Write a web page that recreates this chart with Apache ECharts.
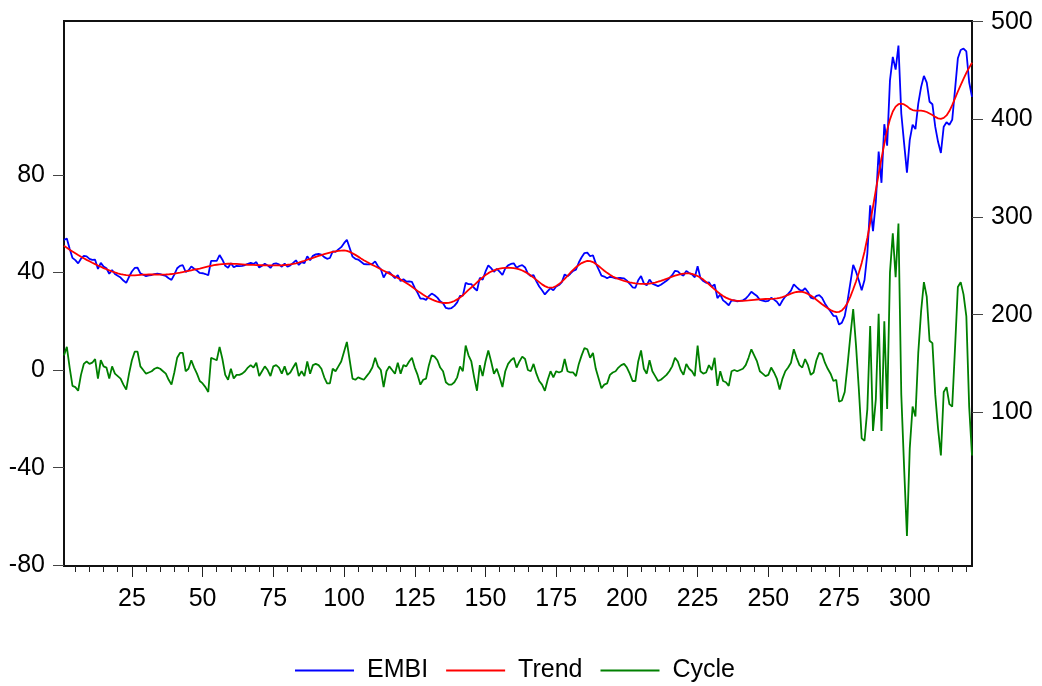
<!DOCTYPE html>
<html><head><meta charset="utf-8">
<script src="https://cdn.jsdelivr.net/npm/echarts@6/dist/echarts.min.js"></script>
<style>html,body{margin:0;padding:0;background:#fff}#c{width:1042px;height:686px}</style>
</head><body><div id="c"></div><script>
const EMBI = [276.5,278,267.5,258.1,255.8,252.5,257.3,260.2,259.6,257.1,
256.1,256.2,246.8,253,249.2,247.5,241.8,245.7,241.7,239.8,
238,234.9,232.5,238.8,244.2,247.8,248,242.2,240.9,239.5,
240.1,240.6,241.6,242,241.5,240.5,239.6,237.3,235.6,241,
247.5,250,250.6,243.7,245.3,249.4,247,245.1,242.7,242.4,
241.6,240.3,255,255.1,255.1,261,256.3,250,248.1,252.6,
248.5,249.9,249.7,250,250.8,252.1,253,251.9,253.8,248.2,
250.1,252,250.4,247.9,251.9,252.4,251.5,249.1,252.3,249.1,
250.5,253,255.6,250.9,253.8,252.7,259.7,255.7,260.2,261.7,
262.1,261.5,258.9,257.2,258,264.7,264.3,266.8,269.1,273.2,
276.7,268.3,259.4,257.2,256.4,254.1,251.8,251.6,251.5,252,
254.5,249.5,246.5,238,243,243.5,240.5,237.5,240.5,234.4,
236.2,233.9,234,233.5,227.4,222.3,216.3,216.4,215.1,219,
221.6,219.9,217.4,213.6,211.6,206.9,206.1,206.8,209,212.6,
219.1,219.4,232.5,231.3,231.3,227.3,224.5,237.7,235.7,244,
250.5,247.6,243.9,246.9,244.1,240.6,247.4,250.5,251.9,252.6,
248.1,249.8,250.7,248.3,242.1,239.6,240.4,234.1,228.8,225,
220.7,224,227.1,225,228.8,230.3,233.3,241.2,239.3,241.9,
244.9,246.1,253.4,258.8,263.1,263.5,259.8,260.8,252.5,246.3,
239.9,239,237.3,238.8,238.1,237.2,237.5,237.5,237.1,234.8,
231.6,228,227.5,235.2,239.5,232,230.1,235.9,231.8,230.4,
229.2,230.6,232.6,234.7,237.3,240.4,244.9,244.3,241.5,240,
244.8,242.7,241.2,238.3,249.5,237.4,234.4,232.6,233.1,228.5,
230.9,216.9,220.6,214.6,212.4,209.6,214.6,214.5,213.7,214.1,
214.7,216.4,219.6,223.4,221.2,219,215.2,214.4,213.5,214.1,
217.2,215.4,213.2,209.2,214.5,218.6,221.3,224.5,231,228.2,
225.5,224.3,227,223.2,217.5,216.5,219.3,220,217.2,211.5,
207,203.2,198.8,198.5,189.8,191.8,198.5,214,232.5,251,
244,235,225,235.5,262.5,312,285.5,315.5,367,335,
395,373,440,464,451,475.5,406,375.3,345.5,379,
394.5,390,416,433,444.5,437.5,418,415.5,392.5,377,
365.5,392.5,397,394.5,399.5,430.5,462.5,471,472.5,469.5,
438,423];

const TREND = [270.5,268.5,266.5,264.6,262.8,261,259.3,257.7,256.1,254.6,
253.1,251.7,250.3,249,247.7,246.5,245.3,244.2,243.2,242.3,
241.5,240.9,240.5,240.3,240.2,240.3,240.5,240.7,240.9,241,
241.1,241.1,241.1,241,241,241,241.1,241.3,241.6,242,
242.5,243,243.6,244.2,244.8,245.4,246,246.6,247.2,247.9,
248.6,249.3,250,250.6,251.1,251.5,251.8,252,252.1,252.1,
252,251.9,251.7,251.5,251.3,251.1,251,250.9,250.8,250.7,
250.6,250.5,250.4,250.4,250.4,250.4,250.5,250.6,250.8,251.1,
251.5,252,252.6,253.4,254.3,255.2,256.2,257.2,258.2,259.2,
260.1,261,261.9,262.7,263.5,264.2,264.8,265.3,265.6,265.7,
265.2,264.3,262.9,261.2,259.4,257.6,255.8,254.1,252.5,251,
249.5,248,246.5,245,243.5,242,240.5,239,237.5,235.9,
234.2,232.4,230.5,228.5,226.4,224.3,222.3,220.4,218.6,217,
215.6,214.4,213.4,212.6,212.1,211.9,212.1,212.8,214,215.6,
217.6,219.9,222.5,225.3,227.8,230.3,233,235.7,238.2,240.5,
242.5,244.1,245.4,246.4,247.1,247.6,247.9,248,247.9,247.6,
247.1,246.3,245.2,243.8,242.1,240.1,237.9,235.6,233.3,231,
229.2,228,227.6,228,229.3,231.3,233.8,236.7,239.8,242.9,
245.9,248.6,250.9,252.8,254.1,255,254.8,253.8,252,249.8,
247.4,245,242.8,240.8,239.1,237.7,236.5,235.5,234.6,233.8,
233.1,232.5,232,231.7,231.5,231.5,231.6,231.9,232.3,232.9,
233.7,234.6,235.6,236.7,237.8,238.9,239.9,240.8,241.5,242,
242.3,242.2,241.7,240.8,239.5,237.9,235.9,233.6,231.1,228.5,
225.9,223.4,221.1,219.1,217.4,216.1,215.1,214.5,214.2,214.1,
214.2,214.4,214.6,214.9,215.2,215.5,215.7,215.9,216,216.1,
216.2,216.4,216.7,217.2,218,219.1,220.3,221.5,222.5,223.2,
223.5,223.3,222.5,221.2,219.5,217.5,215.3,213,210.7,208.5,
206.5,204.7,203.3,202.5,202.8,204.3,207.5,212,218.5,226,
234,243,253,264.5,278.5,294,310.5,327.5,344,360,
375,389,400,408,413,415.5,416,415.3,413.5,411,
409.5,409,409,409,408.5,407.5,406,404.5,402.5,401,
400.5,401.5,404,408.5,414.5,421.5,428.5,435,441.5,447.5,
453,458];

const CYCLE = [6,9.5,1,-6.5,-7,-8.5,-2,2.5,3.5,2.5,
3,4.5,-3.5,4,1.5,1,-3.5,1.5,-1.5,-2.5,
-3.5,-6,-8,-1.5,4,7.5,7.5,1.5,0,-1.5,
-1,-0.5,0.5,1,0.5,-0.5,-1.5,-4,-6,-1,
5,7,7,-0.5,0.5,4,1,-1.5,-4.5,-5.5,
-7,-9,5,4.5,4,9.5,4.5,-2,-4,0.5,
-3.5,-2,-2,-1.5,-0.5,1,2,1,3,-2.5,
-0.5,1.5,0,-2.5,1.5,2,1,-1.5,1.5,-2,
-1,1,3,-2.5,-0.5,-2.5,3.5,-1.5,2,2.5,
2,0.5,-3,-5.5,-5.5,0.5,-0.5,1.5,3.5,7.5,
11.5,4,-3.5,-4,-3,-3.5,-4,-2.5,-1,1,
5,1.5,0,-7,-0.5,1.5,0,-1.5,3,-1.5,
2,1.5,3.5,5,1,-2,-6,-4,-3.5,2,
6,5.5,4,1,-0.5,-5,-6,-6,-5,-3,
1.5,-0.5,10,6,3.5,-3,-8.5,2,-2.5,3.5,
8,3.5,-1.5,0.5,-3,-7,-0.5,2.5,4,5,
1,3.5,5.5,4.5,0,-0.5,2.5,-1.5,-4.5,-6,
-8.5,-4,-0.5,-3,-0.5,-1,-0.5,4.5,-0.5,-1,
-1,-2.5,2.5,6,9,8.5,5,7,0.5,-3.5,
-7.5,-6,-5.5,-2,-1,-0.5,1,2,2.5,1,
-1.5,-4.5,-4.5,3.5,8,0.5,-1.5,4,-0.5,-2.5,
-4.5,-4,-3,-2,-0.5,1.5,5,3.5,0,-2,
2.5,0.5,-0.5,-2.5,10,-0.5,-1.5,-1,2,0,
5,-6.5,-0.5,-4.5,-5,-6.5,-0.5,0,-0.5,0,
0.5,2,5,8.5,6,3.5,-0.5,-1.5,-2.5,-2,
1,-1,-3.5,-8,-3.5,-0.5,1,3,8.5,5,
2,1,4.5,2,-2,-1,4,7,6.5,3,
0.5,-1.5,-4.5,-4,-13,-12.5,-9,2,14,25,
10,-8,-28,-29,-16,18,-25,-12,23,-25,
20,-16,40,56,38,60,-10,-40,-68,-32,
-15,-19,7,24,36,30,12,11,-10,-24,
-35,-9,-7,-14,-15,9,34,36,31,22,
-15,-35];

const SERIES_NAMES = ['EMBI', 'Trend', 'Cycle'];
const X_TICKS = [25, 50, 75, 100, 125, 150, 175, 200, 225, 250, 275, 300];
const X_MINOR = [5,10,15,20,25,30,35,40,45,50,55,60,65,70,75,80,85,90,95,100,
105,110,115,120,125,130,135,140,145,150,155,160,165,170,175,180,185,190,195,200,
205,210,215,220,225,230,235,240,245,250,255,260,265,270,275,280,285,290,295,300,
305,310,315,320];
const LEFT_TICKS = [-80, -40, 0, 40, 80];
const RIGHT_TICKS = [100, 200, 300, 400, 500];

const pts = arr => arr.map((v, i) => [i + 1, v]);
const FONT = "'Liberation Sans', Arial, Helvetica, sans-serif";
const N = EMBI.length;

const chart = echarts.init(document.getElementById('c'), null, {renderer: 'canvas'});
chart.setOption({
  animation: false,
  backgroundColor: '#ffffff',
  textStyle: {fontFamily: FONT},
  grid: {left: 64, top: 21, width: 908, height: 545, show: true,
         borderColor: '#111', borderWidth: 2, backgroundColor: 'transparent'},
  legend: {
    data: SERIES_NAMES, left: 290, top: 653, icon: 'rect', itemWidth: 59, itemHeight: 2, itemGap: 18,
    textStyle: {fontSize: 25, color: '#000', fontFamily: FONT, padding: [0, 0, 0, 8]}
  },
  xAxis: [
    {type: 'value', min: 1, max: N, position: 'bottom',
     axisLine: {show: false, onZero: false}, splitLine: {show: false},
     axisTick: {show: true, length: 11, lineStyle: {color: '#222', width: 1}, customValues: X_TICKS},
     axisLabel: {customValues: X_TICKS, fontSize: 25, color: '#000', margin: 21, fontFamily: FONT}},
    {type: 'value', min: 1, max: N, position: 'bottom',
     axisLine: {show: false, onZero: false}, splitLine: {show: false},
     axisTick: {show: true, length: 6, lineStyle: {color: '#222', width: 1}, customValues: X_MINOR},
     axisLabel: {show: false}}
  ],
  yAxis: [
    {type: 'value', position: 'left', min: -80.3, max: 143,
     axisLine: {show: false, onZero: false}, splitLine: {show: false},
     axisTick: {show: true, length: 11, lineStyle: {color: '#444', width: 1}, customValues: LEFT_TICKS},
     axisLabel: {customValues: LEFT_TICKS, fontSize: 25, color: '#000', margin: 19, fontFamily: FONT,
                 padding: [0, 0, 6, 0]}},
    {type: 'value', position: 'right', min: -57.4, max: 500.7,
     axisLine: {show: false, onZero: false}, splitLine: {show: false},
     axisTick: {show: true, length: 11, lineStyle: {color: '#444', width: 1}, customValues: RIGHT_TICKS},
     axisLabel: {customValues: RIGHT_TICKS, fontSize: 25, color: '#000', margin: 19, fontFamily: FONT,
                 padding: [0, 0, 6, 0]}}
  ],
  series: [
    {name: 'EMBI', type: 'line', xAxisIndex: 0, yAxisIndex: 1, data: pts(EMBI), symbol: 'none',
     lineStyle: {color: '#0000ff', width: 1.8}, itemStyle: {color: '#0000ff'}, z: 2},
    {name: 'Trend', type: 'line', xAxisIndex: 0, yAxisIndex: 1, data: pts(TREND), symbol: 'none',
     lineStyle: {color: '#ff0000', width: 1.8}, itemStyle: {color: '#ff0000'}, z: 3},
    {name: 'Cycle', type: 'line', xAxisIndex: 0, yAxisIndex: 0, data: pts(CYCLE), symbol: 'none',
     lineStyle: {color: '#008000', width: 1.8}, itemStyle: {color: '#008000'}, z: 2}
  ]
});
</script></body></html>
